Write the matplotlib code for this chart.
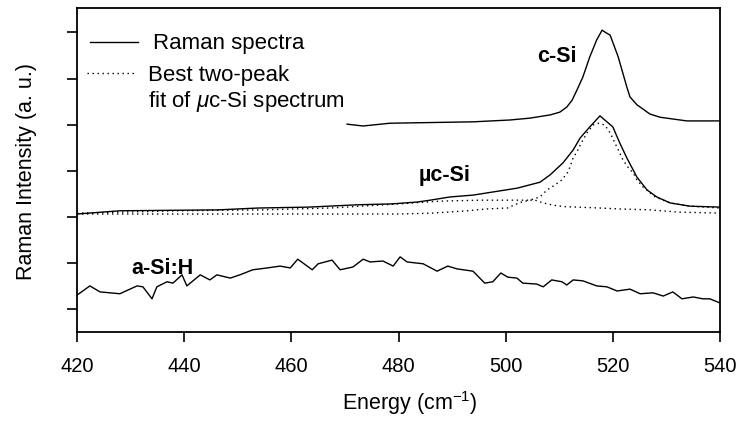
import matplotlib
matplotlib.use("Agg")
import matplotlib.pyplot as plt

plt.rcParams['font.family'] = ['Liberation Sans', 'DejaVu Sans']
plt.rcParams['mathtext.fontset'] = 'custom'
plt.rcParams['mathtext.rm'] = 'Liberation Sans'
plt.rcParams['mathtext.it'] = 'Liberation Sans:italic'
plt.rcParams['mathtext.bf'] = 'Liberation Sans:bold'

# ---- data (energy in cm^-1, intensity in arbitrary offset units) ----
csi_x = [470.4, 473.4, 478.4, 493.9, 500.8, 504.5, 508.3, 510.1, 511.4, 512.4,
         513.3, 514.4, 515.7, 517.0, 518.0, 518.5, 519.5, 521.0, 522.6, 523.2,
         524.5, 525.6, 526.9, 528.8, 533.8, 540.0]
csi_y = [4.01, 3.97, 4.03, 4.06, 4.10, 4.14, 4.21, 4.27, 4.38, 4.53,
         4.75, 5.03, 5.47, 5.84, 6.05, 6.01, 5.94, 5.47, 4.82, 4.60,
         4.43, 4.34, 4.23, 4.16, 4.08, 4.08]

ucsi_x = [420.0, 428.0, 446.3, 453.8, 463.3, 472.3, 478.8, 483.5, 485.9, 489.6,
          493.9, 502.1, 506.4, 508.3, 510.7, 512.6, 513.9, 515.7, 517.6, 520.0,
          521.3, 522.6, 524.5, 526.4, 528.2, 530.7, 534.4, 540.0]
ucsi_y = [2.06, 2.13, 2.15, 2.19, 2.21, 2.26, 2.28, 2.32, 2.36, 2.43,
          2.47, 2.62, 2.75, 2.91, 3.17, 3.45, 3.71, 3.95, 4.19, 3.95,
          3.60, 3.28, 2.86, 2.58, 2.43, 2.30, 2.23, 2.21]

fit_narrow_x = [420.0, 439.2, 454.2, 467.2, 480.3, 487.7, 495.2, 500.8, 504.5, 506.4,
                507.7, 509.2, 510.5, 511.5, 512.0, 512.6, 513.3, 514.1, 515.2, 516.3,
                517.4, 518.5, 519.5, 520.4, 521.3, 521.9, 522.8, 523.8, 524.5, 525.6,
                527.9, 530.7, 534.4, 540.0]
fit_narrow_y = [2.08, 2.13, 2.15, 2.19, 2.28, 2.34, 2.36, 2.36, 2.36, 2.43,
                2.58, 2.69, 2.80, 2.95, 3.08, 3.28, 3.41, 3.60, 3.82, 3.99,
                4.03, 3.99, 3.82, 3.60, 3.38, 3.23, 3.08, 2.95, 2.80, 2.65,
                2.43, 2.30, 2.23, 2.19]

fit_broad_x = [420.0, 461.6, 480.3, 486.4, 492.8, 496.5, 500.3, 501.7, 503.0, 504.5,
               505.5, 507.0, 509.0, 511.0, 513.3, 517.6, 521.3, 526.9, 532.5, 540.0]
fit_broad_y = [2.06, 2.06, 2.06, 2.08, 2.13, 2.17, 2.19, 2.26, 2.32, 2.36,
               2.36, 2.30, 2.25, 2.22, 2.21, 2.19, 2.17, 2.15, 2.10, 2.08]

asi_x = [420.0, 422.4, 424.3, 428.0, 431.2, 432.3, 434.0, 434.9, 436.8, 437.9,
         439.6, 440.5, 443.0, 444.8, 446.1, 448.6, 450.4, 452.8, 455.5, 457.9,
         459.8, 461.2, 463.9, 465.0, 467.6, 469.1, 471.5, 473.4, 474.7, 477.1,
         479.0, 480.3, 481.6, 484.6, 487.2, 489.2, 490.9, 493.9, 496.1, 497.6,
         499.1, 500.4, 502.1, 503.2, 505.8, 507.0, 508.6, 510.5, 511.4, 512.6,
         514.4, 517.0, 518.9, 520.8, 523.2, 525.1, 527.5, 529.4, 531.2, 532.9,
         535.0, 536.8, 538.1, 540.0]
asi_y = [0.30, 0.50, 0.37, 0.33, 0.50, 0.48, 0.22, 0.48, 0.59, 0.56,
         0.74, 0.50, 0.74, 0.63, 0.74, 0.67, 0.74, 0.85, 0.89, 0.93,
         0.89, 1.08, 0.85, 0.98, 1.06, 0.85, 0.91, 1.08, 1.02, 1.04,
         0.93, 1.13, 1.02, 0.98, 0.82, 0.93, 0.87, 0.82, 0.56, 0.59,
         0.78, 0.69, 0.67, 0.56, 0.54, 0.48, 0.63, 0.59, 0.52, 0.63,
         0.61, 0.50, 0.48, 0.39, 0.43, 0.33, 0.35, 0.28, 0.37, 0.22,
         0.26, 0.22, 0.22, 0.13]

x_ticks = [420, 440, 460, 480, 500, 520, 540]
y_ticks = [0, 1, 2, 3, 4, 5, 6]

W, H = 738, 421
fig = plt.figure(figsize=(W / 100, H / 100), dpi=100)
AX_L, AX_R, AX_T, AX_B = 77, 720, 8, 332
ax = fig.add_axes([AX_L / W, 1 - AX_B / H, (AX_R - AX_L) / W, (AX_B - AX_T) / H])

lw = 1.0
dot = (0, (1.0, 2.6))
ax.plot(csi_x, csi_y, color='black', lw=lw)
ax.plot(ucsi_x, ucsi_y, color='black', lw=lw)
ax.plot(fit_narrow_x, fit_narrow_y, color='black', lw=lw, linestyle=dot)
ax.plot(fit_broad_x, fit_broad_y, color='black', lw=lw, linestyle=dot)
ax.plot(asi_x, asi_y, color='black', lw=lw)

ax.set_xlim(420, 540)
ax.set_ylim(-0.5, 6.53)
ax.set_xticks(x_ticks)
ax.set_yticks(y_ticks)
ax.set_yticklabels([])
ax.tick_params(axis='x', direction='out', length=7, width=1.2, labelsize=14.5, pad=11)
ax.tick_params(axis='y', direction='out', length=7, width=1.2)
for s in ax.spines.values():
    s.set_linewidth(1.3)


def ax_frac(px, py):
    return ((px - AX_L) / (AX_R - AX_L), (AX_B - py) / (AX_B - AX_T))


ax.set_xlabel('Energy (cm$^{-1}$)', fontsize=15.5)
ax.xaxis.set_label_coords(*ax_frac(410, 389))
ax.set_ylabel('Raman Intensity (a. u.)', fontsize=15.5)
ax.yaxis.set_label_coords(*ax_frac(37, 171))

# legend drawn by hand in axes-fraction coordinates
x0, y0 = ax_frac(90, 42)
x1, _ = ax_frac(138, 42)
ax.plot([x0, x1], [y0, y0], transform=ax.transAxes, color='black', lw=lw, clip_on=False)
tx, ty = ax_frac(153, 43)
ax.text(tx, ty, 'Raman spectra', transform=ax.transAxes, fontsize=16, va='center', ha='left')

x0, y0 = ax_frac(87, 73)
x1, _ = ax_frac(135, 73)
ax.plot([x0, x1], [y0, y0], transform=ax.transAxes, color='black', lw=lw, linestyle=dot)
tx, ty = ax_frac(148, 75)
ax.text(tx, ty, 'Best two-peak', transform=ax.transAxes, fontsize=16, va='center', ha='left')
tx, ty = ax_frac(148, 101)
ax.text(tx, ty, r'fit of $\mu$c-Si spectrum', transform=ax.transAxes, fontsize=16,
        va='center', ha='left')

# curve labels
for (px, py, s) in [(557, 56, 'c-Si'), (445, 176, 'µc-Si'), (162, 269, 'a-Si:H')]:
    tx, ty = ax_frac(px, py)
    ax.text(tx, ty, s, transform=ax.transAxes, fontsize=15.5, fontweight='bold',
            va='center', ha='center')

fig.savefig('out.png', dpi=100)
